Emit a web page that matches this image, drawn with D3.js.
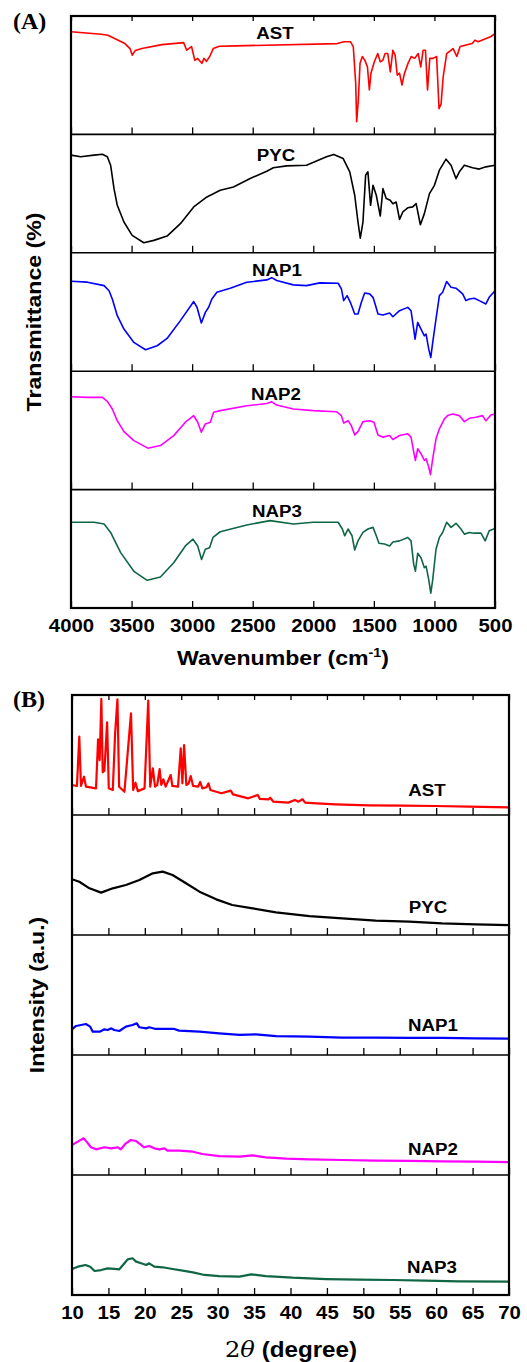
<!DOCTYPE html>
<html>
<head>
<meta charset="utf-8">
<script src="https://cdn.jsdelivr.net/npm/d3@7"></script>
<style>
  body { margin: 0; background: #fff; }
  text { font-family: "Liberation Sans", Arial, sans-serif; font-weight: bold; fill: #000; }
</style>
</head>
<body>
<div id="chart"></div>
<script>
var width = 527,
    height = 1362;

var samples = ["AST", "PYC", "NAP1", "NAP2", "NAP3"];
var colors = ["#ff0000", "#000000", "#0000ff", "#ff00ff", "#0f6645"];

var wnTicks = [4000, 3500, 3000, 2500, 2000, 1500, 1000, 500];
var thetaTicks = [10, 15, 20, 25, 30, 35, 40, 45, 50, 55, 60, 65, 70];

// FTIR spectra: [wavenumber, transmittance (relative, 0-100 inside its strip)]
var ftirAST = [[4000,86.7],[3750,84.6],[3695,83.7],[3555,76.7],[3513,72.5],[3494,66.9],[3470,70.8],[3415,72.5],[3250,75.8],[3070,77.5],[3045,71.1],[3028,72.5],[3005,74.2],[2978,62.5],[2954,64.2],[2920,60],[2902,64.2],[2882,61.7],[2855,65.8],[2826,72.5],[2776,74.5],[2637,74.8],[1802,76.7],[1747,78.3],[1694,78.3],[1670,74.2],[1650,43.3],[1642,10.8],[1628,29.2],[1614,60],[1595,65.8],[1574,62.5],[1553,57],[1537,37.5],[1524,51.7],[1496,61.3],[1468,68.3],[1447,61.3],[1427,62.5],[1407,68.3],[1385,68.3],[1364,52.8],[1343,71.1],[1324,66.7],[1307,50],[1288,51.7],[1268,41.7],[1247,51.7],[1218,60],[1192,65.8],[1163,64.2],[1134,68.3],[1113,57],[1093,71.1],[1074,71.1],[1057,37.5],[1038,64.2],[1011,64.2],[982,65.8],[962,21.7],[945,25.8],[928,48.3],[899,68.3],[846,72.5],[815,65.8],[788,74.2],[689,76.7],[665,79.6],[640,78.3],[578,80.8],[537,82.5],[500,85]];
var ftirPYC = [[4000,82.5],[3920,81.1],[3810,82.5],[3741,83.2],[3700,81.1],[3673,74],[3645,54.2],[3618,40.1],[3563,26],[3495,14.7],[3399,8.5],[3316,10.5],[3207,14.1],[3097,24.6],[2987,38.7],[2878,47.2],[2768,52.8],[2659,55.6],[2521,62.7],[2384,68.9],[2357,70.3],[2330,71.8],[2220,73.4],[2056,74],[1891,81.1],[1831,83.1],[1754,79.7],[1699,68.4],[1658,48.6],[1631,26],[1612,12.4],[1590,26],[1568,65.5],[1549,68.4],[1527,40.1],[1507,57],[1480,48.6],[1447,31.1],[1425,54.2],[1398,45.8],[1365,44.4],[1343,41.5],[1316,42.9],[1288,28.2],[1261,34.5],[1220,38],[1179,38.8],[1151,41.5],[1116,23.7],[1083,33.1],[1041,50],[1000,57],[959,69.8],[904,79.1],[863,74],[822,62.7],[794,68.4],[753,74],[685,71.8],[630,70.7],[575,72.6],[500,74]];
var ftirNAP1 = [[4000,76],[3865,75.2],[3727,72.3],[3686,68],[3659,61],[3618,46.9],[3563,35.6],[3481,24.3],[3385,18.1],[3289,21.5],[3207,27.7],[3097,42.7],[2987,58.8],[2960,54],[2924,40.7],[2891,49.7],[2864,54],[2837,61],[2796,66.7],[2686,70.1],[2549,75.1],[2384,77.1],[2343,79],[2302,76.6],[2165,72.9],[2056,72.3],[1946,74.6],[1795,74.3],[1768,69.5],[1749,59.6],[1721,63.8],[1694,58.2],[1658,48.3],[1631,48.3],[1603,58.2],[1576,66.1],[1535,65.3],[1507,62.4],[1486,55.4],[1466,48.3],[1425,47.5],[1370,49.2],[1343,46],[1288,51.1],[1220,53.9],[1193,51.1],[1171,35.6],[1160,27.1],[1138,41.2],[1111,35.6],[1083,29.9],[1069,31.4],[1047,18.6],[1030,11.6],[1014,24.3],[987,44.1],[959,63.8],[932,66.7],[899,75.7],[863,70.9],[822,70.1],[767,65.3],[740,59.6],[712,61],[671,61.6],[630,59.6],[575,56.8],[548,62.4],[500,68]];
var ftirNAP2 = [[4000,78.4],[3865,77.9],[3741,77.9],[3700,74.5],[3659,68.1],[3618,58.2],[3563,49],[3481,41.4],[3366,35],[3262,37.2],[3152,45.6],[3056,56.9],[2987,62.4],[2954,56.9],[2924,48.5],[2891,55.5],[2850,56.9],[2823,65.3],[2768,66.7],[2549,70.8],[2384,72.7],[2343,74.1],[2302,71.4],[2165,68.1],[2001,66.7],[1809,65.8],[1768,62.4],[1749,56.3],[1713,58.2],[1686,54],[1658,46.2],[1631,49],[1590,57.4],[1535,58.2],[1499,56.9],[1466,46.2],[1425,44.3],[1370,45.7],[1343,42.3],[1288,45.7],[1220,47.1],[1193,44.3],[1171,31.7],[1157,24.7],[1138,34.5],[1111,30.3],[1083,24.7],[1069,26.1],[1047,19.1],[1033,12.6],[1014,26.1],[987,42.9],[959,51.3],[918,59.7],[891,62.5],[850,63.9],[795,62.5],[753,57.4],[712,60.2],[657,61.1],[603,62.5],[575,58.2],[534,63],[500,63.9]];
var ftirNAP3 = [[4000,72.4],[3810,72.4],[3727,70.9],[3673,63.8],[3590,46.8],[3481,31],[3371,23.4],[3262,26.2],[3152,38.2],[3056,52.4],[2993,58.1],[2954,52.4],[2922,41],[2891,49.6],[2856,50.9],[2828,59.6],[2768,64.4],[2549,70.1],[2357,73.8],[2165,70.9],[2001,72.4],[1795,72.4],[1760,66.7],[1741,61],[1713,66.7],[1680,61],[1658,49],[1631,56.7],[1590,63.8],[1549,66.7],[1507,68.1],[1480,61],[1458,54.7],[1412,54],[1370,52.4],[1343,55.8],[1288,56.7],[1220,59.6],[1193,56.7],[1171,36.8],[1157,31.1],[1138,46.2],[1111,42.5],[1083,34],[1069,35.3],[1047,24],[1030,12.5],[1014,24],[987,49.6],[959,59.6],[932,63.8],[899,72.4],[863,68.1],[822,71.5],[781,66.7],[753,62.4],[712,63.8],[671,63.2],[616,63.2],[581,56.7],[548,65.3],[500,67.2]];

// XRD patterns: [2 theta, intensity (relative, 0-100 inside its strip)]
var xrdAST = [[10,25],[10.68,24.2],[11,65.3],[11.23,24.2],[11.65,31.9],[11.92,23.6],[13.3,22.2],[13.58,63],[13.8,45.8],[14.03,96.7],[14.22,35.6],[14.45,36.9],[14.82,77.2],[15.05,22.2],[15.6,20.8],[15.92,68],[16.24,96.4],[16.47,23.6],[17.2,19.4],[18.1,84.7],[18.4,20.8],[18.72,26.9],[19.04,19.9],[19.96,22.2],[20.47,95.3],[20.74,23.6],[21.1,38.9],[21.4,23.6],[21.7,25],[22.03,38.3],[22.26,25],[22.54,29.7],[22.86,23.6],[23.55,33.3],[23.78,24.2],[24.56,23.6],[24.93,55.6],[25.16,26.4],[25.39,58.3],[25.7,25],[26.03,26.4],[26.3,32.5],[26.63,24.2],[27.32,23.6],[27.6,27.5],[27.9,22.2],[28.47,23.1],[28.74,26.4],[29,20.8],[30.5,18.1],[31.8,20.3],[32.1,17.2],[34.2,13.9],[35.5,16.7],[35.8,13.4],[37,13.1],[37.2,14.4],[37.66,11.1],[39.7,10.3],[40.6,12.5],[41.1,11.1],[41.65,13.1],[42,10.3],[43.6,9.7],[46.2,8.9],[50.75,8.1],[55.35,7.8],[59.9,7.5],[64.5,6.9],[70,6.4]];
var xrdPYC = [[10,46.4],[11,44.4],[12.4,38.9],[14,35.3],[15.6,38.9],[17.4,41.7],[19.25,45.8],[21.1,51.4],[22.45,52.8],[23.8,50],[25.65,43.1],[27.5,36.1],[29.8,29.7],[32,25],[34.8,22.2],[38,18.9],[42.6,15.8],[47.1,13.9],[51.7,11.9],[56.3,11.1],[60.8,9.7],[65.4,8.9],[70,8.3]];
var xrdNAP1 = [[10,21.4],[10.55,24.2],[11.25,25],[11.9,25.8],[12.5,23.6],[12.85,19.4],[13.8,19.4],[14.45,21.4],[14.9,20.8],[15.4,22.2],[15.8,20.8],[16.5,20],[17.4,23.6],[18.3,25],[18.9,26.4],[19.25,23.1],[20.2,22.2],[20.6,23.1],[21.5,21.7],[22.9,21.7],[24.05,21.7],[24.7,20.3],[27.5,19.4],[30.2,18.1],[33,16.7],[35.25,17.2],[38,15.8],[42.6,15.3],[47.1,14.4],[51.7,14.4],[56.3,14.2],[60.8,14.2],[65.4,13.9],[70,13.6]];
var xrdNAP2 = [[10,25],[10.8,27.8],[11.6,30.6],[12,27.8],[12.6,23.1],[13.3,21.4],[14.45,23.1],[15.4,22.2],[16.3,23.1],[16.7,21.4],[17.4,26.4],[18.1,29.2],[18.8,28.3],[19.35,25.8],[19.9,23.1],[20.6,24.2],[21.3,22.2],[22,21.4],[22.7,22.2],[23.1,20.3],[24.7,20.3],[26.6,19.4],[27.9,17.5],[30.2,15.8],[33,15.3],[34.8,16.4],[36.6,14.7],[39.4,13.6],[42.6,13.1],[47.1,12.5],[51.7,11.9],[56.3,11.7],[60.8,11.4],[65.4,11.1],[70,10.8]];
var xrdNAP3 = [[10,21.7],[10.8,23.6],[11.85,25],[12.5,23.6],[13.1,20],[14,20.8],[14.9,22.2],[15.8,21.7],[16.5,21.4],[17.2,26.4],[17.65,29.7],[18.3,30.6],[18.8,27.8],[19.5,26.4],[20.2,25],[20.6,26.4],[21.3,23.6],[22.45,23.1],[23.8,21.7],[25.2,20.3],[26.6,18.9],[28.2,16.7],[30.2,15.8],[33,15.3],[34.6,17.2],[36.6,15.8],[40.3,14.4],[44.85,13.3],[49.4,12.8],[54,12.5],[58.55,11.9],[63.1,11.4],[70,11.1]];

var svg = d3.select("#chart").append("svg")
    .attr("width", width)
    .attr("height", height);

var stretch = "scale(1.1,1)";

function drawPanel(opt) {
    var x = d3.scaleLinear().domain(opt.xDomain).range([opt.left, opt.right]);
    var stripH = (opt.bottom - opt.top) / opt.series.length;
    var g = svg.append("g");

    opt.series.forEach(function (data, i) {
        var top = opt.top + i * stripH,
            bottom = top + stripH;
        var y = d3.scaleLinear().domain([0, 100]).range([bottom, top]);

        var line = d3.line()
            .x(function (d) { return x(d[0]); })
            .y(function (d) { return y(d[1]); });

        g.append("path")
            .datum(data)
            .attr("fill", "none")
            .attr("stroke", colors[i])
            .attr("stroke-width", opt.lineWidth)
            .attr("stroke-linejoin", "round")
            .attr("d", line);

        // inward ticks on the bottom of every strip
        var ax = g.append("g")
            .attr("transform", "translate(0," + bottom + ")")
            .call(d3.axisBottom(x).tickValues(opt.ticks).tickSizeInner(-7).tickSizeOuter(0)
                .tickPadding(11).tickFormat(i === opt.series.length - 1 ? d3.format("d") : ""));
        ax.select(".domain").remove();
        ax.selectAll("line").attr("stroke", "#000").attr("stroke-width", 1.3);
        ax.selectAll("text")
            .attr("font-size", 18.5)
            .attr("transform", stretch);

        if (i === 0) {
            var axTop = g.append("g")
                .attr("transform", "translate(0," + top + ")")
                .call(d3.axisTop(x).tickValues(opt.ticks).tickSizeInner(-5).tickSizeOuter(0).tickFormat(""));
            axTop.select(".domain").remove();
            axTop.selectAll("line").attr("stroke", "#000").attr("stroke-width", 1.3);
        }

        if (i > 0) {
            g.append("line")
                .attr("x1", opt.left).attr("x2", opt.right)
                .attr("y1", top).attr("y2", top)
                .attr("stroke", "#000").attr("stroke-width", 1.6);
        }

        g.append("text")
            .attr("transform", "translate(" + opt.labelX[i] + "," + (top + opt.labelDy[i]) + ") " + stretch)
            .attr("text-anchor", "middle")
            .attr("font-size", 17)
            .text(samples[i]);
    });

    g.append("rect")
        .attr("x", opt.left).attr("y", opt.top)
        .attr("width", opt.right - opt.left).attr("height", opt.bottom - opt.top)
        .attr("fill", "none").attr("stroke", "#000").attr("stroke-width", 2.2);

    // y title
    var ymid = (opt.top + opt.bottom) / 2;
    g.append("text")
        .attr("transform", "translate(" + opt.yTitleX + "," + ymid + ") rotate(-90) " + stretch)
        .attr("text-anchor", "middle")
        .attr("font-size", 21)
        .text(opt.yTitle);

    // panel tag
    g.append("text")
        .attr("x", 13).attr("y", opt.tagY)
        .style("font-family", "'Liberation Serif', 'Times New Roman', serif")
        .attr("font-size", 24)
        .text(opt.tag);

    return g;
}

// (A) FTIR
var gA = drawPanel({
    top: 16, bottom: 608, left: 71, right: 495,
    xDomain: [4000, 500], ticks: wnTicks,
    series: [ftirAST, ftirPYC, ftirNAP1, ftirNAP2, ftirNAP3],
    lineWidth: 1.6,
    labelX: [275, 276, 277, 276, 277],
    labelDy: [23, 27, 23, 29, 27],
    yTitle: "Transmittance (%)", yTitleX: 41,
    tag: "(A)", tagY: 29
});

var tA = gA.append("text")
    .attr("transform", "translate(283,665) " + stretch)
    .attr("text-anchor", "middle")
    .attr("font-size", 21);
tA.append("tspan").text("Wavenumber (cm");
tA.append("tspan").attr("font-size", 13).attr("dy", -8).text("-1");
tA.append("tspan").attr("dy", 8).text(")");

// (B) XRD
var gB = drawPanel({
    top: 695, bottom: 1295, left: 72, right: 509,
    xDomain: [10, 70], ticks: thetaTicks,
    series: [xrdAST, xrdPYC, xrdNAP1, xrdNAP2, xrdNAP3],
    lineWidth: 2.2,
    labelX: [427, 428, 433, 433, 432],
    labelDy: [101, 98, 96, 100, 98],
    yTitle: "Intensity (a.u.)", yTitleX: 44,
    tag: "(B)", tagY: 707
});

var tB = gB.append("text")
    .attr("transform", "translate(291,1357) " + stretch)
    .attr("text-anchor", "middle")
    .attr("font-size", 22);
tB.append("tspan")
    .style("font-family", "'DejaVu Serif', 'Liberation Serif', serif")
    .style("font-weight", "normal")
    .text("2");
tB.append("tspan")
    .style("font-family", "'DejaVu Serif', 'Liberation Serif', serif")
    .style("font-style", "italic")
    .style("font-weight", "normal")
    .text("\u03B8");
tB.append("tspan").text(" (degree)");
</script>
</body>
</html>
